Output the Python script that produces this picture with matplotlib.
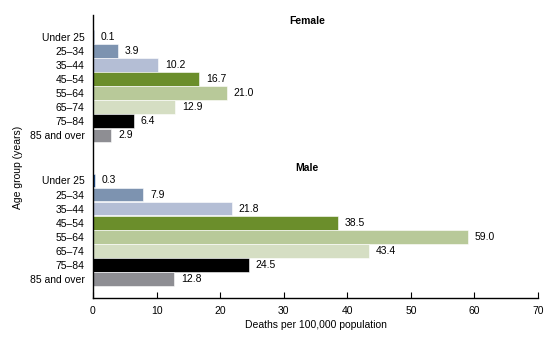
import matplotlib
matplotlib.use("Agg")
import matplotlib.pyplot as plt

ages = ["Under 25", "25\u201334", "35\u201344", "45\u201354", "55\u201364", "65\u201374", "75\u201384", "85 and over"]
female = [0.1, 3.9, 10.2, 16.7, 21.0, 12.9, 6.4, 2.9]
male = [0.3, 7.9, 21.8, 38.5, 59.0, 43.4, 24.5, 12.8]
colors = ["#1f4e8c", "#7d93b0", "#b4bed5", "#6b8e2b", "#b8c999", "#d5dec3", "#000000", "#8e8e93"]
xticks = [0, 10, 20, 30, 40, 50, 60, 70]

plt.rcParams['font.family'] = ['Liberation Sans', 'DejaVu Sans']
fs = 7.5
fig = plt.figure(figsize=(5.6, 3.46), dpi=100)
ax = fig.add_axes([93/560, 1-298/346, 445/560, (298-15)/346])

step = 1.0
f_pos = [i * step for i in range(8)]
m_start = 10.2
m_pos = [m_start + i * step for i in range(8)]

ax.barh(f_pos, female, height=0.97, color=colors, edgecolor='white', linewidth=0.4)
ax.barh(m_pos, male, height=0.97, color=colors, edgecolor='white', linewidth=0.4)

for p, v in zip(f_pos, female):
    ax.text(v + 1.1, p, f"{v:.1f}", va='center', ha='left', fontsize=fs)
for p, v in zip(m_pos, male):
    ax.text(v + 1.1, p, f"{v:.1f}", va='center', ha='left', fontsize=fs)

ax.text(33.7, -1.1, "Female", ha='center', va='center', fontsize=fs, fontweight='bold')
ax.text(33.7, m_start - 0.85, "Male", ha='center', va='center', fontsize=fs, fontweight='bold')

ax.set_yticks(f_pos + m_pos)
ax.set_yticklabels(ages + ages, fontsize=fs)
ax.tick_params(axis='y', length=0, pad=6)
ax.set_ylim(m_pos[-1] + 1.35, -1.55)

ax.set_xlim(0, 70)
ax.set_xticks(xticks)
ax.set_xticklabels([str(t) for t in xticks], fontsize=fs)
ax.tick_params(axis='x', direction='in', length=4, width=0.8, pad=6)
ax.set_xlabel("Deaths per 100,000 population", fontsize=fs, labelpad=3)
ax.set_ylabel("Age group (years)", fontsize=fs)
ax.yaxis.set_label_coords(-0.157, 0.463)

for s in ['top', 'right']:
    ax.spines[s].set_visible(False)
for s in ['left', 'bottom']:
    ax.spines[s].set_linewidth(1.0)

fig.savefig("out.png", dpi=100)
